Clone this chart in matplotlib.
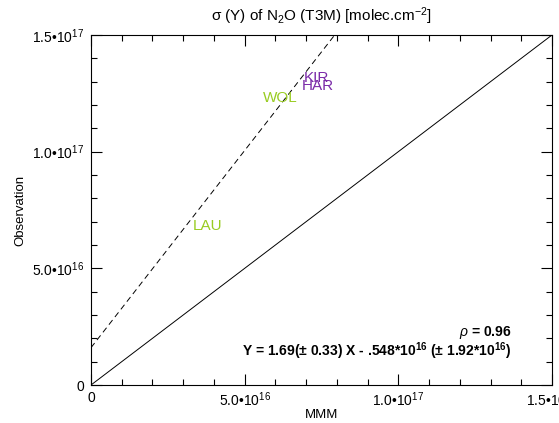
import matplotlib
matplotlib.use('Agg')
import matplotlib.pyplot as plt
import numpy as np
from matplotlib.ticker import MultipleLocator, FuncFormatter

plt.rcParams['font.family'] = ['Liberation Sans', 'DejaVu Sans']
plt.rcParams['mathtext.fontset'] = 'custom'
plt.rcParams['mathtext.rm'] = 'Liberation Sans'
plt.rcParams['mathtext.it'] = 'Liberation Sans:italic'
plt.rcParams['mathtext.bf'] = 'Liberation Sans:bold'

# stations (label, x = MMM, y = Observation, colour)
stations = ['LAU', 'WOL', 'HAR', 'KIR']
mmm = [3.32e16, 5.60e16, 6.87e16, 6.93e16]
obs = [6.64e16, 1.213e17, 1.264e17, 1.299e17]
colors = ['#99cc22', '#99cc22', '#7a2aa8', '#7a2aa8']

# fit
slope = 1.69
intercept = 1.6e16
xmax = 1.5e17
ymax = 1.5e17

fig = plt.figure(figsize=(5.59, 4.23), dpi=100)
ax = fig.add_axes([91/559, 38/423, 461/559, 350/423])

# 1:1 line
xx = np.array([0, xmax])
ax.plot(xx, xx, 'k-', lw=0.7)
# regression line
ax.plot(xx, slope * xx + intercept, 'k--', lw=0.7, dashes=(6, 4))

for s, x, y, c in zip(stations, mmm, obs, colors):
    ax.text(x, y, s, color=c, fontsize=11, ha='left', va='baseline')

ax.set_xlim(0, xmax)
ax.set_ylim(0, ymax)

def fmt(v, pos):
    if v <= 0:
        return '0'
    e = int(np.floor(np.log10(v) + 1e-9))
    m = v / 10**e
    return '%.1f•10$^{%d}$' % (m, e)

for a in (ax.xaxis, ax.yaxis):
    a.set_major_locator(MultipleLocator(5e16))
    a.set_minor_locator(MultipleLocator(1e16))
    a.set_major_formatter(FuncFormatter(fmt))

ax.tick_params(which='both', direction='in', top=True, right=True, labelsize=10, width=0.8)
ax.tick_params(which='major', length=8)
ax.tick_params(which='minor', length=4.5)
ax.tick_params(axis='x', which='major', pad=4)
ax.tick_params(axis='y', which='major', pad=5)
for sp in ax.spines.values():
    sp.set_linewidth(0.8)

ax.set_xlabel('MMM', fontsize=9.5, labelpad=0)
ax.set_ylabel('Observation', fontsize=9.5, labelpad=4)
ax.set_title('\u03c3 (Y) of N$_2$O (T3M) [molec.cm$^{-2}$]', fontsize=11, pad=10)

ax.text(0.912, 0.14, r'$\rho$ = 0.96', transform=ax.transAxes, ha='right',
        va='baseline', fontsize=10, fontweight='bold')
ax.text(0.912, 0.083, r'Y = 1.69(± 0.33) X - .548*10$^{\mathbf{16}}$ (± 1.92*10$^{\mathbf{16}}$)',
        transform=ax.transAxes, ha='right', va='baseline', fontsize=10, fontweight='bold')

fig.savefig('out.png', dpi=100)
